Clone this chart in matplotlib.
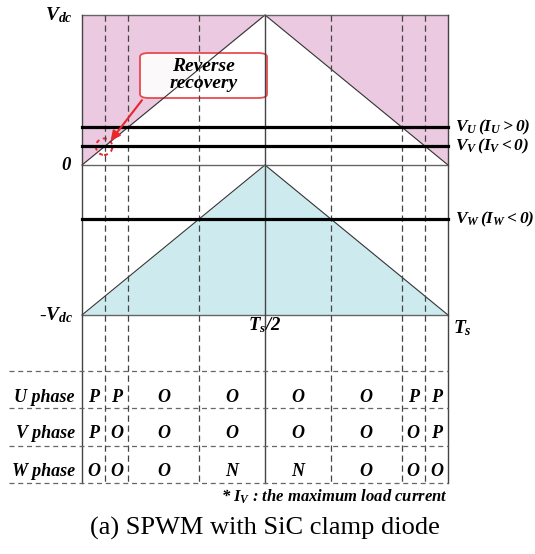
import numpy as np
import matplotlib
matplotlib.use('Agg')
import matplotlib.pyplot as plt
from matplotlib.patches import FancyBboxPatch, Ellipse

plt.rcParams['font.family'] = 'Liberation Serif'
plt.rcParams['mathtext.fontset'] = 'custom'
plt.rcParams['mathtext.rm'] = 'Liberation Serif:bold:italic'
plt.rcParams['mathtext.it'] = 'Liberation Serif:bold:italic'
plt.rcParams['mathtext.bf'] = 'Liberation Serif:bold:italic'

# data: normalised carrier period, reference voltages (per Vdc)
Ts = 1.0
V_U = 0.253
V_V = 0.127
V_W = -0.36
phases = ['U phase', 'V phase', 'W phase']
states = [
    ['P', 'P', 'O', 'O', 'O', 'O', 'P', 'P'],
    ['P', 'O', 'O', 'O', 'O', 'O', 'O', 'P'],
    ['O', 'O', 'O', 'N', 'N', 'O', 'O', 'O'],
]
ref_labels = [r'$V_U\,(I_U >0)$', r'$V_V\,(I_V <0)$', r'$V_W\,(I_W <0)$']

# carriers
t = np.array([0, Ts / 2, Ts])
upper = np.array([0, 1, 0])
lower = np.array([-1, 0, -1])

# switching instants from intersections
tu = V_U / 2 * Ts
tv = V_V / 2 * Ts
tw = (1 + V_W) / 2 * Ts
cuts = sorted([tv, tu, tw, Ts - tw, Ts - tu, Ts - tv])
bounds = [0] + cuts[:3] + [Ts / 2] + cuts[3:] + [Ts]

fig = plt.figure(figsize=(5.35, 5.54), dpi=100)
ax = fig.add_axes([0, 0, 1, 1])
ax.set_xlim(-82 / 366, 453 / 366)
ax.set_ylim(-1 - 239 / 150, 1 + 15 / 150)
ax.axis('off')

def py(p):
    # pixel row -> data y
    return 1 - (p - 15) / 150

pink = '#EBC9E0'
cyan = '#CDEAEF'
gray = '#666666'
bi = dict(fontweight='bold', style='italic')

ax.fill_between(t, upper, 1, color=pink, lw=0)
ax.fill_between(t, lower, -1, color=cyan, lw=0)
ax.plot(t, upper, color='#333333', lw=0.8)
ax.plot(t, lower, color='#333333', lw=0.8)

# frame lines
for yv in [1, 0, -1]:
    ax.plot([0, Ts], [yv, yv], color=gray, lw=1.0)
bottom = py(483)
for xv in [0, Ts / 2, Ts]:
    ax.plot([xv, xv], [1, bottom], color='#444444', lw=1.0)
for xv in cuts:
    ax.plot([xv, xv], [1, bottom], color='#444444', lw=0.9, ls=(0, (5, 3)))

# reference voltages
for v in [V_U, V_V, V_W]:
    ax.plot([0, Ts], [v, v], color='black', lw=2.3)
for v, lab in zip([V_U, V_V, V_W], ref_labels):
    ax.text(Ts + 0.02, v, lab, fontsize=12.5, ha='left', va='center')

# axis labels
ax.text(-0.025, 1, r'$V_{dc}$', fontsize=14, ha='right', va='center')
ax.text(-0.03, 0, '0', fontsize=13.5, ha='right', va='center', **bi)
ax.text(-0.025, -1, r'-$V_{dc}$', fontsize=14, ha='right', va='center')
ax.text(Ts / 2, -1.07, r'$T_s/2$', fontsize=13.5, ha='center', va='center')
ax.text(Ts + 0.04, -1.09, r'$T_s$', fontsize=14, ha='center', va='center')

# table
for p in [371, 408, 446, 483]:
    ax.plot([-0.2, Ts], [py(p), py(p)], color=gray, lw=0.9, ls=(0, (4, 3)))
centers = [(bounds[i] + bounds[i + 1]) / 2 for i in range(len(bounds) - 1)]
row_y = [py(397), py(434), py(471)]
for ry, name, row in zip(row_y, phases, states):
    ax.text(-0.02, ry, name, fontsize=13, ha='right', va='center', **bi)
    for c, s in zip(centers, row):
        ax.text(c, ry, s, fontsize=13, ha='center', va='center', **bi)

ax.text(Ts, py(497), r'* $I_V$ : the maximum load current', fontsize=12,
        ha='right', va='center', **bi)
ax.text(0.5, py(528), '(a) SPWM with SiC clamp diode', fontsize=19,
        ha='center', va='center')

# reverse recovery callout
bx0, bx1 = (140 - 82) / 366, (267 - 82) / 366
box = FancyBboxPatch((bx0, py(98)), bx1 - bx0, py(53) - py(98),
                     boxstyle='round,pad=0,rounding_size=0.025',
                     fc='white', ec='#E8383D', lw=1.3, alpha=0.9)
ax.add_patch(box)
ax.text((bx0 + bx1) / 2, py(75), 'Reverse\nrecovery', fontsize=14,
        ha='center', va='center', linespacing=1.05, **bi)
ax.annotate('', xy=(tv + 0.01, V_V + 0.02), xytext=(bx0 + 0.01, py(98)),
            arrowprops=dict(arrowstyle='-|>', color='#E8262B', lw=1.5,
                            mutation_scale=14))
ax.add_patch(Ellipse((tv - 0.003, V_V - 0.005), 0.045, 0.11, fill=False,
                     ec='#E8262B', lw=1.4, ls=(0, (2, 2))))

fig.savefig('out.png', dpi=100)
